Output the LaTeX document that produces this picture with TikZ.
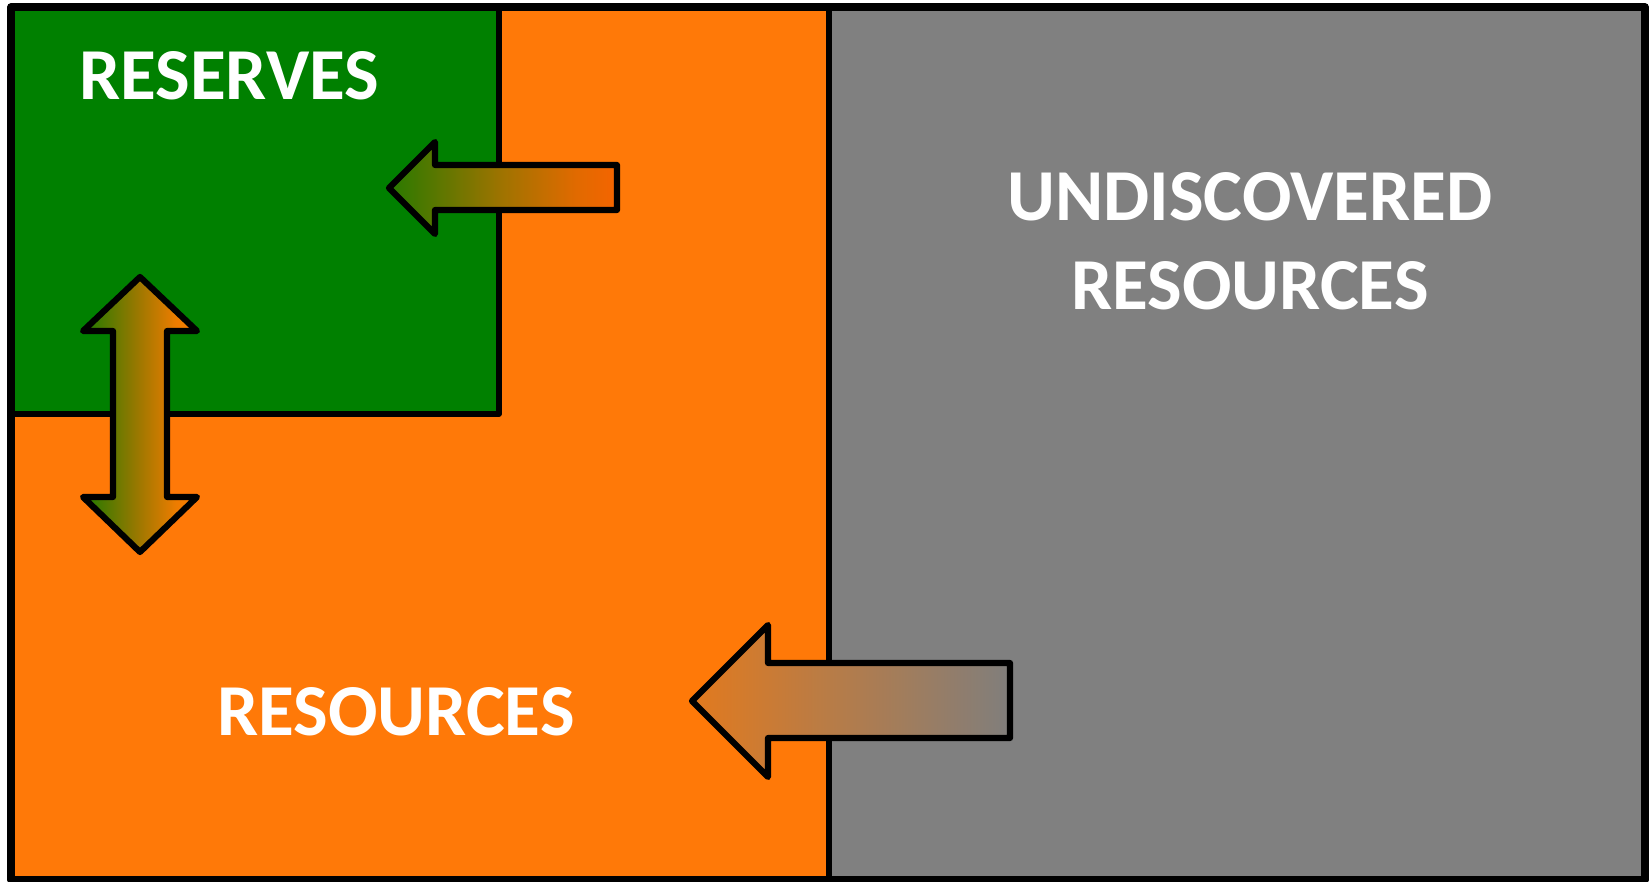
\documentclass[tikz,border=0pt]{standalone}
\usepackage{fontspec}
\setmainfont{Carlito}
\definecolor{resgreen}{RGB}{0,128,0}
\definecolor{resorange}{RGB}{255,121,8}
\definecolor{resgray}{RGB}{128,128,128}
\definecolor{agreen}{RGB}{40,122,0}
\definecolor{aolive}{RGB}{160,115,0}
\definecolor{amid}{RGB}{225,106,0}
\definecolor{aorange}{RGB}{245,100,0}
\definecolor{bgreen}{RGB}{30,122,0}
\definecolor{bolive}{RGB}{160,120,0}
\definecolor{bmid}{RGB}{238,124,0}
\definecolor{borange}{RGB}{255,125,0}
\definecolor{corange}{RGB}{226,122,30}
\definecolor{cgray}{RGB}{128,126,124}
\pgfdeclarehorizontalshading{arrowA}{100bp}{color(0bp)=(agreen); color(25bp)=(agreen); color(50bp)=(aolive); color(66bp)=(amid); color(75bp)=(aorange); color(100bp)=(aorange)}
\pgfdeclarehorizontalshading{arrowB}{100bp}{color(0bp)=(bgreen); color(25bp)=(bgreen); color(50bp)=(bolive); color(66bp)=(bmid); color(75bp)=(borange); color(100bp)=(borange)}
\begin{document}
\begin{tikzpicture}[x=0.5pt,y=-0.5pt,line join=round,
  border/.style={line width=2.8pt},
  outerborder/.style={line width=3.7pt},
  blockarrow/.style={line width=3.1pt,draw=black},
  lbl/.style={text=white,font=\bfseries\fontsize{36.6}{44}\selectfont,anchor=base,inner sep=0pt}]
\useasboundingbox (0,0) rectangle (1650,882);
% regions
\fill[resorange] (11,7) rectangle (829,880);
\fill[resgray] (829,7) rectangle (1645,880);
\fill[resgreen] (11,7) rectangle (499,414);
\draw[border] (11,414) -- (499,414) -- (499,7);
\draw[border] (829,7) -- (829,880);
\draw[outerborder] (11,7) rectangle (1645,880);
% labels
\node[lbl] (reserves) at (229,100) {RESERVES};
\node[lbl] (und1) at (1250,221) {UNDISCOVERED};
\node[lbl] (und2) at (1250,310) {RESOURCES};
\node[lbl] (res) at (396,735) {RESOURCES};
% arrows
\shadedraw[blockarrow,shading=arrowA]
  (389,188) -- (435,142) -- (435,165) -- (617,165) -- (617,210) -- (435,210) -- (435,234) -- cycle;
\shadedraw[blockarrow,shading=arrowB]
  (140,277) -- (197,331) -- (167,331) -- (167,497) -- (197,497) -- (140,552) -- (83,497) -- (113,497) -- (113,331) -- (83,331) -- cycle;
\shadedraw[blockarrow,left color=corange,right color=cgray]
  (692,701) -- (768,625) -- (768,663) -- (1010,663) -- (1010,738) -- (768,738) -- (768,777) -- cycle;
\end{tikzpicture}
\end{document}
